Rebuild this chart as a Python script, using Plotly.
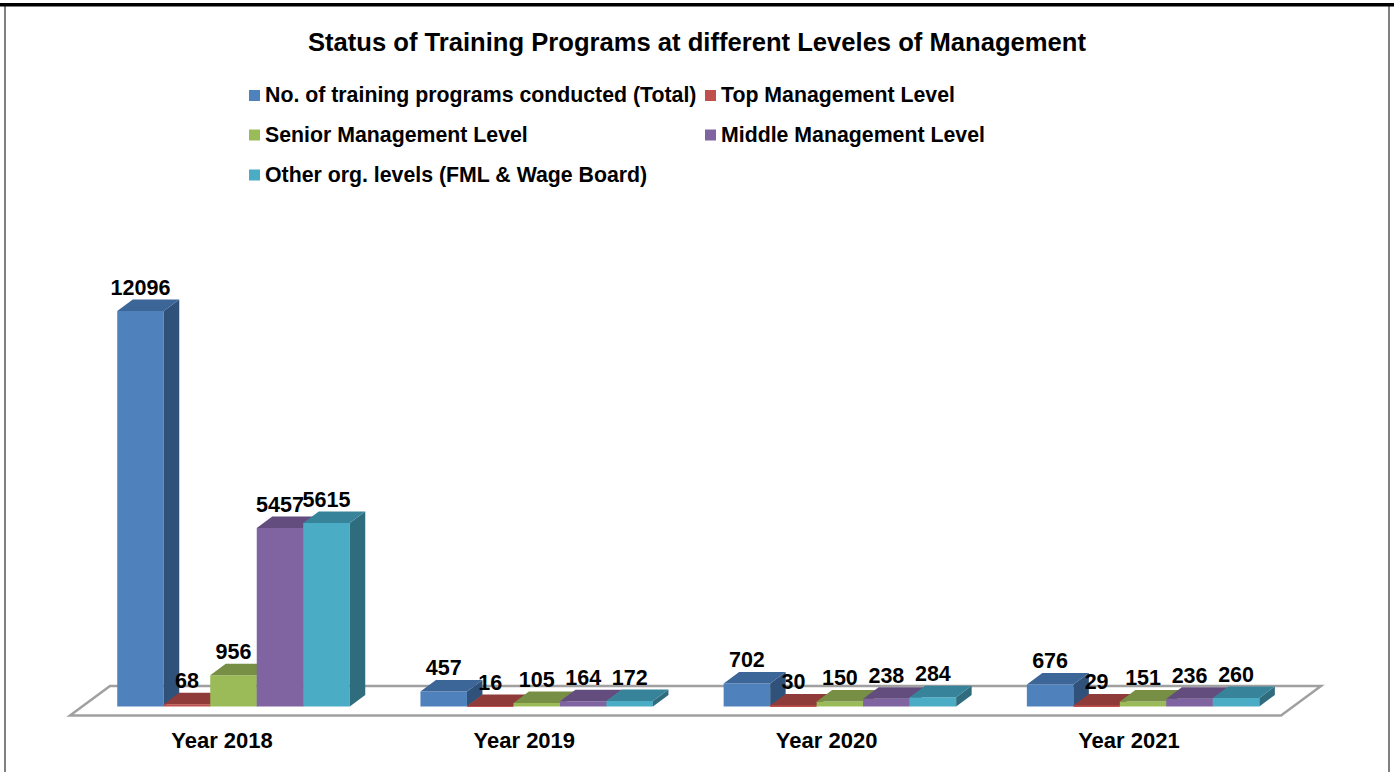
import plotly.graph_objects as go

# ---- data ----
categories = ["Year 2018", "Year 2019", "Year 2020", "Year 2021"]
series_names = [
    "No. of training programs conducted (Total)",
    "Top Management Level",
    "Senior Management Level",
    "Middle Management Level",
    "Other org. levels (FML & Wage Board)",
]
total_programs = [12096, 457, 702, 676]
top_level = [68, 16, 30, 29]
senior_level = [956, 105, 150, 151]
middle_level = [5457, 164, 238, 236]
other_levels = [5615, 172, 284, 260]
series_values = [total_programs, top_level, senior_level, middle_level, other_levels]

front_colors = ["#4F81BD", "#C0504D", "#9BBB59", "#8064A2", "#4BACC6"]
top_colors = ["#3C6598", "#8F3B39", "#778F44", "#634D7E", "#37849A"]
side_colors = ["#30527A", "#7A3230", "#64783A", "#503F68", "#2F6C7E"]

# ---- layout geometry (pixels) ----
W, H = 1394, 772
PLOT_BOTTOM = 724
BASE_PX = 706.5
PX_PER_VALUE = 0.0327
GROUP0_PX = 233.5
GROUP_STEP_PX = 303.2
BAR_PX = 46.5
DEPTH_X_PX = 15.5
DEPTH_Y_PX = 11.5
LABEL_GAP_PX = 10.0
TICK0_PX = 222.0
TICK_STEP_PX = 302.3
FONT = "Liberation Sans, Arial, sans-serif"


def vx(px):
    return (px - GROUP0_PX) / GROUP_STEP_PX


def vy(py):
    return (BASE_PX - py) / PX_PER_VALUE


x_range = [vx(0), vx(W)]
y_range = [vy(PLOT_BOTTOM), vy(0)]
bar_w = BAR_PX / GROUP_STEP_PX
dx = DEPTH_X_PX / GROUP_STEP_PX
dy = DEPTH_Y_PX / PX_PER_VALUE
label_gap = LABEL_GAP_PX / PX_PER_VALUE

fig = go.Figure()


def axis_suffix(n):
    return "" if n == 0 else str(n + 1)


for s, (name, values) in enumerate(zip(series_names, series_values)):
    xa, ya = "x" + axis_suffix(s), "y" + axis_suffix(s)
    centers = [g + (s - 2) * bar_w for g in range(len(categories))]
    fig.add_trace(go.Bar(
        x=centers, y=values, width=bar_w, name=name,
        marker=dict(color=front_colors[s], line=dict(width=0)),
        xaxis=xa, yaxis=ya, showlegend=False, hoverinfo="x+y",
    ))
    side_x, side_y, top_x, top_y = [], [], [], []
    for c, v in zip(centers, values):
        l, r = c - bar_w / 2, c + bar_w / 2
        side_x += [r, r + dx, r + dx, r, r, None]
        side_y += [0, dy, v + dy, v, 0, None]
        top_x += [l, r, r + dx, l + dx, l, None]
        top_y += [v, v, v + dy, v + dy, v, None]
    for fx, fy, col in ((side_x, side_y, side_colors[s]), (top_x, top_y, top_colors[s])):
        fig.add_trace(go.Scatter(
            x=fx, y=fy, mode="lines", fill="toself", fillcolor=col,
            line=dict(width=0, color=col), xaxis=xa, yaxis=ya,
            showlegend=False, hoverinfo="skip",
        ))

# data labels, on the topmost axes
last = len(series_names) - 1
lab_x, lab_y, lab_t = [], [], []
for s, values in enumerate(series_values):
    for g, v in enumerate(values):
        lab_x.append(g + (s - 2) * bar_w)
        lab_y.append(v + dy + label_gap)
        lab_t.append(str(v))
fig.add_trace(go.Scatter(
    x=lab_x, y=lab_y, text=lab_t, mode="text", textposition="middle center",
    textfont=dict(family=FONT, size=21.5, color="#000000", weight="bold"),
    xaxis="x" + axis_suffix(last), yaxis="y" + axis_suffix(last),
    showlegend=False, hoverinfo="skip", cliponaxis=False,
))

# axes
axis_common = dict(range=x_range, domain=[0, 1], showgrid=False, zeroline=False, showline=False, fixedrange=True)
yaxis_common = dict(range=y_range, domain=[0, 1], showgrid=False, zeroline=False, showline=False,
                    showticklabels=False, ticks="", fixedrange=True)
layout_axes = {}
for s in range(len(series_names)):
    key = axis_suffix(s)
    if s == 0:
        layout_axes["xaxis"] = dict(
            **axis_common, tickmode="array",
            tickvals=[vx(TICK0_PX + g * TICK_STEP_PX) for g in range(len(categories))],
            ticktext=categories, ticks="", ticklabelstandoff=1,
            tickfont=dict(family=FONT, size=22, color="#000000", weight="bold"),
        )
        layout_axes["yaxis"] = dict(**yaxis_common)
    else:
        layout_axes["xaxis" + key] = dict(**axis_common, overlaying="x", visible=False, anchor="y" + key)
        layout_axes["yaxis" + key] = dict(**yaxis_common, overlaying="y", visible=False, anchor="x" + key)

# floor of the 3-D chart (decoration, behind all bars)
floor = [(70, 715.5), (1281, 715.5), (1321, 686), (110, 686)]
floor_path = "M " + " L ".join(f"{vx(px):.5f},{vy(py):.2f}" for px, py in floor) + " Z"
shapes = [dict(type="path", path=floor_path, xref="x", yref="y", layer="below",
               line=dict(color="#A0A0A0", width=2.5), fillcolor="rgba(0,0,0,0)")]


# "paper" coordinates span the plot area, which ends at PLOT_BOTTOM
def px_x(px):
    return px / W


def px_y(py):
    return 1 - py / PLOT_BOTTOM


# frame
for x0, y0, x1, y1, col in [
    (4, 6, 6, 772, "#808080"),
    (1388, 6, 1390, 772, "#808080"),
    (0, 3, 1394, 6.5, "#000000"),
]:
    shapes.append(dict(type="rect", xref="paper", yref="paper", layer="above",
                       x0=px_x(x0), x1=px_x(x1), y0=px_y(y0), y1=px_y(y1),
                       fillcolor=col, line=dict(width=0)))

# legend, laid out as in the reference
legend_pos = [(249, 95.5), (705, 95.5), (249, 135), (705, 135), (249, 175)]
annotations = []
for name, col, (lx, ly) in zip(series_names, front_colors, legend_pos):
    shapes.append(dict(type="rect", xref="paper", yref="paper", layer="above",
                       x0=px_x(lx), x1=px_x(lx + 11), y0=px_y(ly + 5.5), y1=px_y(ly - 5.5),
                       fillcolor=col, line=dict(width=0)))
    annotations.append(dict(text=name, xref="paper", yref="paper", x=px_x(lx + 14), y=px_y(ly),
                            xanchor="left", yanchor="middle", showarrow=False,
                            font=dict(family=FONT, size=21.3, color="#000000", weight="bold")))

annotations.append(dict(text="Status of Training Programs at different Leveles of Management",
                        xref="paper", yref="paper", x=px_x(697), y=px_y(42),
                        xanchor="center", yanchor="middle", showarrow=False,
                        font=dict(family=FONT, size=25.6, color="#000000", weight="bold")))

fig.update_layout(
    width=W, height=H, autosize=False, barmode="overlay",
    margin=dict(l=0, r=0, t=0, b=H - PLOT_BOTTOM, pad=0),
    paper_bgcolor="#FFFFFF", plot_bgcolor="rgba(0,0,0,0)",
    showlegend=False, shapes=shapes, annotations=annotations, **layout_axes,
)

fig.write_html("out.html", config=dict(displayModeBar=False),
               post_script="document.body.style.margin='0';document.body.style.overflow='hidden';")
